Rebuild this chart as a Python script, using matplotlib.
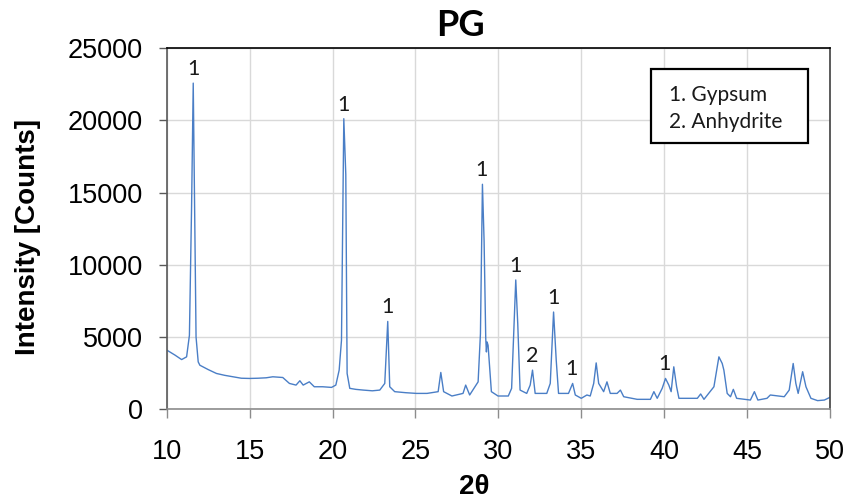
import matplotlib
matplotlib.use("Agg")
import matplotlib.pyplot as plt
from matplotlib.patches import Rectangle

two_theta = [10.0, 10.5, 10.9, 11.2, 11.37, 11.5, 11.6, 11.68, 11.77, 11.9, 12.0, 12.5,
             13.0, 13.5, 14.0, 14.5, 15.0, 15.5, 16.0, 16.4, 17.0, 17.4, 17.8, 18.03,
             18.23, 18.6, 18.9, 19.4, 19.94, 20.2, 20.4, 20.54, 20.68, 20.8, 20.88,
             21.04, 21.4, 21.85, 22.4, 22.85, 23.15, 23.33, 23.45, 23.75, 24.4, 25.06,
             25.7, 26.37, 26.53, 26.7, 27.2, 27.87, 28.03, 28.27, 28.78, 28.92, 29.04,
             29.14, 29.24, 29.28, 29.32, 29.38, 29.58, 29.98, 30.6, 30.8, 31.05, 31.17,
             31.31, 31.71, 31.92, 32.06, 32.22, 32.92, 33.13, 33.33, 33.49, 33.63,
             34.23, 34.48, 34.64, 35.0, 35.34, 35.54, 35.75, 35.9, 36.05, 36.35, 36.55,
             36.75, 37.16, 37.36, 37.56, 38.37, 39.17, 39.38, 39.58, 39.88, 40.08,
             40.28, 40.42, 40.58, 40.75, 40.89, 42.0, 42.2, 42.4, 43.0, 43.3, 43.5,
             43.6, 43.8, 44.0, 44.17, 44.37, 45.2, 45.44, 45.65, 46.2, 46.4, 47.24,
             47.54, 47.78, 47.94, 48.08, 48.35, 48.55, 48.85, 49.25, 49.66, 50.0]
intensity = [4100, 3750, 3440, 3630, 5120, 14000, 22570, 14000, 5000, 3280, 3050, 2750,
             2480, 2350, 2250, 2150, 2135, 2150, 2180, 2250, 2200, 1790, 1675, 1975,
             1675, 1900, 1560, 1560, 1515, 1676, 2710, 4775, 20110, 16250, 2480,
             1450, 1380, 1330, 1280, 1330, 1790, 6080, 1560, 1220, 1150, 1100,
             1100, 1220, 2550, 1220, 920, 1100, 1675, 990, 1900, 5230, 15570,
             11660, 4890, 3970, 4660, 4430, 1220, 920, 920, 1450, 8950, 5920,
             1330, 1100, 1675, 2710, 1100, 1100, 1790, 6730, 3400, 1100,
             1100, 1790, 990, 760, 990, 920, 1790, 3210, 1790, 1220, 1900,
             1100, 1100, 1330, 870, 690, 690, 1220, 760, 1450, 2135,
             1675, 1220, 2940, 1560, 760, 760, 1060, 690, 1560, 3630, 3170,
             2710, 1100, 870, 1380, 760, 640, 1220, 640, 760, 990, 870,
             1330, 3170, 1790, 1100, 2600, 1560, 760, 600, 640, 830]

# labelled reflections: position, peak intensity, phase number
peak_2theta = [11.6, 20.68, 23.33, 29.0, 31.05, 32.06, 33.33, 34.4, 40.0]
peak_intensity = [22570, 20110, 6080, 15570, 8950, 2710, 6730, 1790, 2135]
peak_phase = ["1", "1", "1", "1", "1", "2", "1", "1", "1"]

legend_lines = ["1. Gypsum", "2. Anhydrite"]
x_ticks = [10, 15, 20, 25, 30, 35, 40, 45, 50]
y_ticks = [0, 5000, 10000, 15000, 20000, 25000]

plt.rcParams["font.family"] = ["Liberation Sans", "DejaVu Sans"]

fig = plt.figure(figsize=(8.47, 4.99), dpi=100)
ax = fig.add_axes([166.7 / 847, 1 - 409.3 / 499, (830 - 166.7) / 847, (409.3 - 48) / 499])

ax.plot(two_theta, intensity, color="#4a7ec6", linewidth=1.0)

ax.set_xlim(10, 50)
ax.set_ylim(0, 25000)
ax.set_xticks(x_ticks)
ax.set_yticks(y_ticks)
ax.set_xticklabels([str(t) for t in x_ticks])
ax.set_yticklabels([str(t) for t in y_ticks])
ax.grid(True, color="#d9d9d9", linewidth=1.0)
ax.set_axisbelow(True)

ax.tick_params(axis="x", direction="out", length=6.5, width=1, color="#8c8c8c",
               labelsize=19.5, pad=15)
ax.tick_params(axis="y", direction="out", length=6, width=1, color="#595959",
               labelsize=19.5, pad=11)

ax.spines["left"].set_color("#595959")
ax.spines["bottom"].set_color("#8c8c8c")
ax.spines["top"].set_color("#000000")
ax.spines["right"].set_color("#404040")
for s in ax.spines.values():
    s.set_linewidth(1.2)

for xp, yp, lab in zip(peak_2theta, peak_intensity, peak_phase):
    ax.annotate(lab, xy=(xp, yp), xytext=(0, 14), textcoords="offset pixels",
                ha="center", va="center", fontsize=15.5, family=["Lato", "DejaVu Sans"],
                color="#1a1a1a")

# legend box
fig.patches.append(Rectangle((651 / 847, 1 - 143 / 499), (808 - 651) / 847, (143 - 69) / 499,
                             transform=fig.transFigure, fill=True, facecolor="white",
                             edgecolor="black", linewidth=1.6, zorder=5))
for i, line in enumerate(legend_lines):
    fig.text(669 / 847, 1 - (95 + 27 * i) / 499, line, ha="left", va="center",
             fontsize=15, family=["Lato", "DejaVu Sans"], color="#1a1a1a", zorder=6)

fig.text(460 / 847, 1 - 26 / 499, "PG", ha="center", va="center", fontsize=26,
         fontweight="bold", family=["Lato", "DejaVu Sans"])
fig.text(28 / 847, 1 - 237 / 499, "Intensity [Counts]", rotation=90, ha="center",
         va="center", fontsize=20, fontweight="bold")
fig.text(474 / 847, 1 - 487 / 499, "2θ", ha="center", va="center", fontsize=20,
         fontweight="bold")

fig.savefig("out.png", dpi=100)
